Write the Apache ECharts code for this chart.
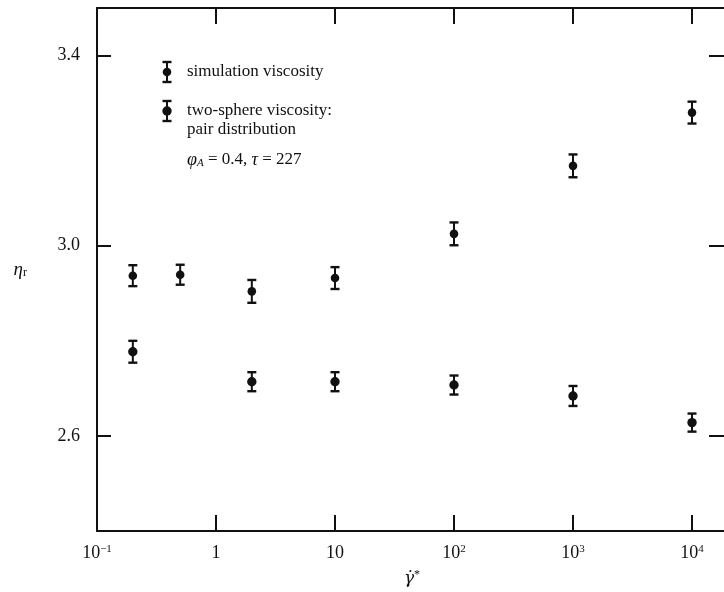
<!DOCTYPE html>
<html>
<head>
<meta charset="utf-8">
<script src="https://cdn.jsdelivr.net/npm/echarts@6/dist/echarts.min.js"></script>
<style>
html,body{margin:0;padding:0;background:#fff;}
#chart{width:724px;height:592px;}
</style>
</head>
<body>
<div id="chart"></div>
<script>
// ---- data ----
const simRates     = [0.2, 0.5, 2, 10, 100, 1000, 10000];
const simViscosity = [2.937, 2.939, 2.904, 2.932, 3.025, 3.168, 3.280];
const simError     = [0.022, 0.021, 0.024, 0.023, 0.024, 0.024, 0.023];

const pairRates     = [0.2, 2, 10, 100, 1000, 10000];
const pairViscosity = [2.777, 2.714, 2.714, 2.707, 2.684, 2.628];
const pairError     = [0.023, 0.020, 0.020, 0.020, 0.021, 0.019];

const yTickValues = [2.6, 3.0, 3.4];
const legendNames = ['simulation viscosity', 'two-sphere viscosity:', 'pair distribution'];

// ---- styling ----
const INK = '#111';
const FONT = '"Liberation Serif", "DejaVu Serif", serif';

const simData = simRates.map((x, i) => [x, simViscosity[i], simError[i]]);
const pairData = pairRates.map((x, i) => [x, pairViscosity[i], pairError[i]]);

function errRender(dotR) {
  return function (params, api) {
    const x = api.value(0), y = api.value(1), e = api.value(2);
    const c = api.coord([x, y]);
    const hi = api.coord([x, y + e]);
    const lo = api.coord([x, y - e]);
    const hw = 4.5;
    return {
      type: 'group',
      children: [
        {type: 'line', shape: {x1: c[0], y1: hi[1], x2: c[0], y2: lo[1]}, style: {stroke: INK, lineWidth: 2}},
        {type: 'line', shape: {x1: c[0] - hw, y1: hi[1], x2: c[0] + hw, y2: hi[1]}, style: {stroke: INK, lineWidth: 2.4}},
        {type: 'line', shape: {x1: c[0] - hw, y1: lo[1], x2: c[0] + hw, y2: lo[1]}, style: {stroke: INK, lineWidth: 2.4}},
        {type: 'circle', shape: {cx: c[0], cy: c[1], r: dotR}, style: {fill: INK}}
      ]
    };
  };
}

function legendIcon(cx, cy, r) {
  const hw = 4.5, h = 10;
  return [
    {type: 'line', shape: {x1: cx, y1: cy - h, x2: cx, y2: cy + h}, style: {stroke: INK, lineWidth: 2}},
    {type: 'line', shape: {x1: cx - hw, y1: cy - h, x2: cx + hw, y2: cy - h}, style: {stroke: INK, lineWidth: 2.4}},
    {type: 'line', shape: {x1: cx - hw, y1: cy + h, x2: cx + hw, y2: cy + h}, style: {stroke: INK, lineWidth: 2.4}},
    {type: 'circle', shape: {cx: cx, cy: cy, r: r}, style: {fill: INK}}
  ];
}

function legendText(x, y, txt) {
  return {type: 'text', x: x, y: y, style: {text: txt, fill: INK, font: '17px ' + FONT, textVerticalAlign: 'middle', textAlign: 'left'}};
}

function xLabel(v) {
  const l = Math.log10(v);
  const e = Math.round(l);
  if (Math.abs(l - e) > 1e-6) return '';
  if (e === 0) return '1';
  if (e === 1) return '10';
  return '{b|10}{s|' + (e < 0 ? '\u2212' : '') + Math.abs(e) + '}';
}

const labelRich = {
  b: {fontFamily: FONT, fontSize: 18, color: INK},
  s: {fontFamily: FONT, fontSize: 11, color: INK, verticalAlign: 'top', padding: [0, 0, 8, 0]}
};

const X_MIN = 0.1, X_MAX = 19680;

const chart = echarts.init(document.getElementById('chart'));
chart.setOption({
  backgroundColor: '#fff',
  animation: false,
  grid: {left: 97, top: 8, right: -3, bottom: 61, containLabel: false, outerBoundsMode: 'none'},
  xAxis: [
    {
      type: 'log', logBase: 10, min: X_MIN, max: X_MAX, position: 'bottom',
      axisLine: {show: true, lineStyle: {color: INK, width: 2}},
      axisTick: {show: true, inside: true, length: 16, lineStyle: {color: INK, width: 2}},
      minorTick: {show: false},
      splitLine: {show: false},
      axisLabel: {formatter: xLabel, margin: 13, color: INK, fontFamily: FONT, fontSize: 18, showMaxLabel: false, rich: labelRich},
      name: '{g|\u03B3\u0307}{s|*}',
      nameLocation: 'middle', nameGap: 38,
      nameTextStyle: {rich: {
        g: {fontFamily: '"DejaVu Serif", serif', fontSize: 17, fontStyle: 'italic', color: INK},
        s: {fontFamily: FONT, fontSize: 12, color: INK, verticalAlign: 'top', padding: [0, 0, 8, 0]}
      }}
    },
    {
      type: 'log', logBase: 10, min: X_MIN, max: X_MAX, position: 'top',
      axisLine: {show: true, lineStyle: {color: INK, width: 2}},
      axisTick: {show: true, inside: true, length: 16, lineStyle: {color: INK, width: 2}},
      minorTick: {show: false},
      splitLine: {show: false},
      axisLabel: {show: false}
    }
  ],
  yAxis: [
    {
      type: 'value', min: 2.4, max: 3.5, interval: 0.2, position: 'left',
      axisLine: {show: true, lineStyle: {color: INK, width: 2}},
      axisTick: {show: true, inside: true, length: 14, lineStyle: {color: INK, width: 2}, customValues: yTickValues},
      splitLine: {show: false},
      axisLabel: {customValues: yTickValues, formatter: v => v.toFixed(1), margin: 17, color: INK, fontFamily: FONT, fontSize: 18},
      name: '{e|\u03B7}{r|r}',
      nameLocation: 'middle', nameGap: 70, nameRotate: 0,
      nameTextStyle: {rich: {
        e: {fontFamily: FONT, fontSize: 19, fontStyle: 'italic', color: INK},
        r: {fontFamily: FONT, fontSize: 12, color: INK, verticalAlign: 'bottom', padding: [6, 0, 0, 0]}
      }}
    },
    {
      type: 'value', min: 2.4, max: 3.5, interval: 0.2, position: 'right',
      axisLine: {show: true, lineStyle: {color: INK, width: 2}},
      axisTick: {show: true, inside: true, length: 18, lineStyle: {color: INK, width: 2}, customValues: yTickValues},
      splitLine: {show: false},
      axisLabel: {show: false}
    }
  ],
  series: [
    {type: 'custom', name: legendNames[0], xAxisIndex: 0, yAxisIndex: 0, data: simData, encode: {x: 0, y: 1}, renderItem: errRender(4.3), clip: false},
    {type: 'custom', name: legendNames[1], xAxisIndex: 0, yAxisIndex: 0, data: pairData, encode: {x: 0, y: 1}, renderItem: errRender(4.7), clip: false}
  ],
  graphic: [
    {type: 'group', silent: true, children: [].concat(
      legendIcon(167, 72, 4.3),
      legendIcon(167, 111, 4.7),
      [
        legendText(187, 72, legendNames[0]),
        legendText(187, 111, legendNames[1]),
        legendText(187, 130, legendNames[2]),
        {type: 'text', x: 187, y: 160, style: {
          text: '{i|\u03C6}{sub|A}{n| = 0.4, }{i|\u03C4}{n| = 227}',
          textVerticalAlign: 'middle', textAlign: 'left',
          rich: {
            i: {fontFamily: FONT, fontSize: 18, fontStyle: 'italic', fill: INK, color: INK},
            sub: {fontFamily: FONT, fontSize: 11, fontStyle: 'italic', fill: INK, color: INK, verticalAlign: 'bottom', padding: [6, 0, 0, 0]},
            n: {fontFamily: FONT, fontSize: 17, fill: INK, color: INK}
          }
        }}
      ]
    )}
  ]
});
</script>
</body>
</html>
